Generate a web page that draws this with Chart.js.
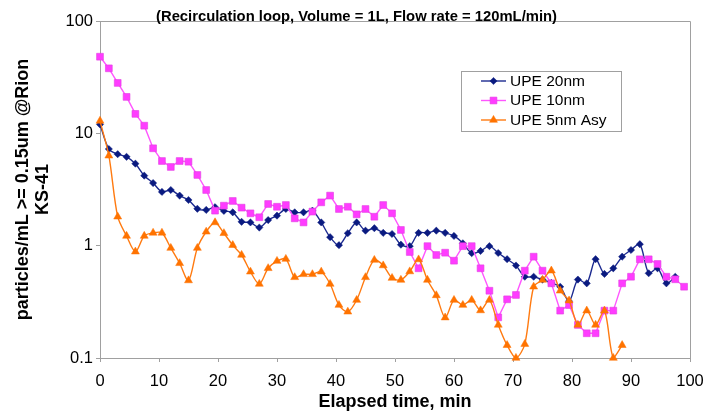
<!DOCTYPE html>
<html><head><meta charset="utf-8">
<script src="https://cdn.jsdelivr.net/npm/chart.js@4.4.0/dist/chart.umd.min.js"></script>
<style>html,body{margin:0;padding:0;background:#fff;overflow:hidden}#wrap{position:relative;width:704px;height:413px}</style>
</head><body><div id="wrap"><canvas id="c" width="704" height="413"></canvas></div>
<script>
const titleText = '(Recirculation loop, Volume = 1L, Flow rate = 120mL/min)';
const xTitle = 'Elapsed time, min';
const yTitle = ['particles/mL >= 0.15um @Rion', 'KS-41'];
const seriesNames = ['UPE 20nm', 'UPE 10nm', 'UPE 5nm Asy'];
const minutes = [0,1.5,3,4.5,6,7.5,9,10.5,12,13.5,15,16.5,18,19.5,21,22.5,24,25.5,27,28.5,30,31.5,33,34.5,36,37.5,39,40.5,42,43.5,45,46.5,48,49.5,51,52.5,54,55.5,57,58.5,60,61.5,63,64.5,66,67.5,69,70.5,72,73.5,75,76.5,78,79.5,81,82.5,84,85.5,87,88.5,90,91.5,93,94.5,96,97.5,99];
const upe20 = [12.0,7.25,6.52,6.18,5.37,4.20,3.61,3.01,3.13,2.79,
  2.55,2.13,2.08,2.20,2.04,1.98,1.63,1.61,1.45,1.69,
  1.85,2.12,1.98,1.98,2.05,1.61,1.19,1.01,1.29,1.61,
  1.36,1.43,1.30,1.27,1.02,0.99,1.30,1.30,1.36,1.30,
  1.22,1.05,0.857,0.897,0.99,0.86,0.758,0.666,0.529,0.529,
  0.499,0.466,0.431,0.320,0.499,0.462,0.758,0.560,0.629,0.798,
  0.915,1.03,0.568,0.629,0.462,0.529];
const upe10 = [48.1,37.9,28.1,21.1,14.9,11.7,7.36,5.67,5.02,5.67,
  5.59,4.26,3.13,2.05,2.27,2.50,2.18,1.94,1.79,2.35,
  2.22,2.30,1.75,1.61,2.01,2.43,2.79,2.12,2.22,1.90,
  2.12,1.81,2.30,1.94,1.38,0.878,0.629,0.99,0.826,0.866,
  0.735,0.99,0.99,0.629,0.397,0.230,0.333,0.364,0.599,0.798,
  0.599,0.462,0.264,0.296,0.197,0.166,0.166,0.264,0.264,0.462,
  0.529,0.756,0.756,0.687,0.529,0.502,0.431];
const upe5 = [12.9,6.32,1.81,1.22,0.884,1.22,1.30,1.30,0.953,0.697,
  0.490,0.953,1.33,1.61,1.29,1.01,0.826,0.586,0.456,0.629,
  0.730,0.761,0.523,0.556,0.556,0.586,0.456,0.296,0.258,0.328,
  0.523,0.745,0.666,0.515,0.495,0.589,0.753,0.495,0.361,0.229,
  0.328,0.296,0.328,0.265,0.328,0.197,0.130,0.1,0.133,0.431,
  0.495,0.599,0.397,0.324,0.197,0.264,0.197,0.264,0.1,0.130];
const xTicks = [0,10,20,30,40,50,60,70,80,90,100];
const yTicks = [0.1,1,10,100];

const pts = (arr) => arr.map((v, i) => ({x: minutes[i], y: v}));
const FONT = '"Liberation Sans", Arial, Helvetica, sans-serif';
const AXIS = '#a0a0a0';

const datasets = [
  {label: seriesNames[0], data: pts(upe20), borderColor: '#1c2a90', backgroundColor: '#0a1a80',
   pointStyle: 'rectRot', pointRadius: 3.6, pointBorderWidth: 0.5, pointBorderColor: '#0a1a80', borderWidth: 1.4, tension: 0.3, order: 3, clip: 6},
  {label: seriesNames[1], data: pts(upe10), borderColor: '#ff55ff', backgroundColor: '#ff3cff',
   pointStyle: 'rect', pointRadius: 4.8, pointBorderWidth: 0.6, pointBorderColor: '#e040e0', borderWidth: 1.4, tension: 0, order: 2, clip: 6},
  {label: seriesNames[2], data: pts(upe5), borderColor: '#ff7a10', backgroundColor: '#ff7300',
   pointStyle: 'triangle', pointRadius: 4.6, pointBorderWidth: 0.5, pointBorderColor: '#ff7300', borderWidth: 1.4, tension: 0.3, order: 1, clip: 6}
];

const deco = {
  id: 'deco',
  afterDraw(chart) {
    const ctx = chart.ctx, a = chart.chartArea;
    ctx.save();
    ctx.strokeStyle = AXIS; ctx.lineWidth = 1;
    ctx.beginPath();
    ctx.moveTo(a.left, Math.round(a.top) + 0.5);
    ctx.lineTo(Math.round(a.right) + 0.5, Math.round(a.top) + 0.5);
    ctx.lineTo(Math.round(a.right) + 0.5, a.bottom);
    ctx.stroke();
    // title
    ctx.fillStyle = '#000';
    ctx.font = 'bold 14.8px ' + FONT;
    ctx.textAlign = 'center'; ctx.textBaseline = 'alphabetic';
    ctx.fillText(titleText, 356.5, 20.5);
    // legend
    const bx = 461, by = 71, bw = 160, bh = 60;
    ctx.fillStyle = '#fff';
    ctx.fillRect(bx, by, bw, bh);
    ctx.strokeStyle = '#a0a0a0';
    ctx.strokeRect(bx + 0.5, by + 0.5, bw, bh);
    const rows = [81, 100.5, 120];
    chart.data.datasets.forEach((ds, i) => {
      const y = rows[i];
      ctx.strokeStyle = ds.borderColor; ctx.lineWidth = 1.4;
      ctx.beginPath(); ctx.moveTo(481, y); ctx.lineTo(506, y); ctx.stroke();
      ctx.fillStyle = ds.backgroundColor; ctx.strokeStyle = ds.pointBorderColor; ctx.lineWidth = ds.pointBorderWidth;
      Chart.helpers.drawPoint(ctx, {pointStyle: ds.pointStyle, radius: ds.pointRadius, rotation: 0, borderWidth: ds.pointBorderWidth}, 493.5, y);
      ctx.fillStyle = '#000';
      ctx.font = '15.5px ' + FONT;
      ctx.textAlign = 'left'; ctx.textBaseline = 'middle';
      ctx.fillText(ds.label, 510, y + 0.5);
    });
    ctx.restore();
  }
};

new Chart(document.getElementById('c'), {
  type: 'line',
  data: {datasets},
  plugins: [deco],
  options: {
    responsive: false, animation: false, devicePixelRatio: 1,
    layout: {padding: {left: 0, right: 14, top: 21, bottom: 0}},
    plugins: {legend: {display: false}, tooltip: {enabled: false}, title: {display: false}},
    scales: {
      x: {
        type: 'linear', min: 0, max: 100,
        afterBuildTicks: (s) => { s.ticks = xTicks.map(v => ({value: v})); },
        afterFit: (s) => { s.height = 55; s.paddingLeft = 0; s.paddingRight = 0; },
        grid: {drawOnChartArea: false, drawTicks: true, tickLength: 4, color: AXIS},
        border: {color: AXIS, width: 1},
        ticks: {color: '#000', font: {family: FONT, size: 16.5}, padding: 10, maxRotation: 0, autoSkip: false},
        title: {display: true, text: xTitle, color: '#000', font: {family: FONT, size: 18, weight: 'bold', lineHeight: 1.1}, padding: {top: 0, bottom: 1}}
      },
      y: {
        type: 'logarithmic', min: 0.1, max: 100,
        afterBuildTicks: (s) => { s.ticks = yTicks.map(v => ({value: v})); },
        afterFit: (s) => { s.width = 100; s.paddingTop = 0; s.paddingBottom = 0; },
        grid: {drawOnChartArea: false, drawTicks: true, tickLength: 4, color: AXIS},
        border: {color: AXIS, width: 1},
        ticks: {color: '#000', font: {family: FONT, size: 16.5}, padding: 3, autoSkip: false,
                callback: (v) => String(v)},
        title: {display: true, text: yTitle, color: '#000', font: {family: FONT, size: 18, weight: 'bold', lineHeight: 1.1}, padding: {top: 13, bottom: 0}}
      }
    }
  }
});
</script>
</body></html>
